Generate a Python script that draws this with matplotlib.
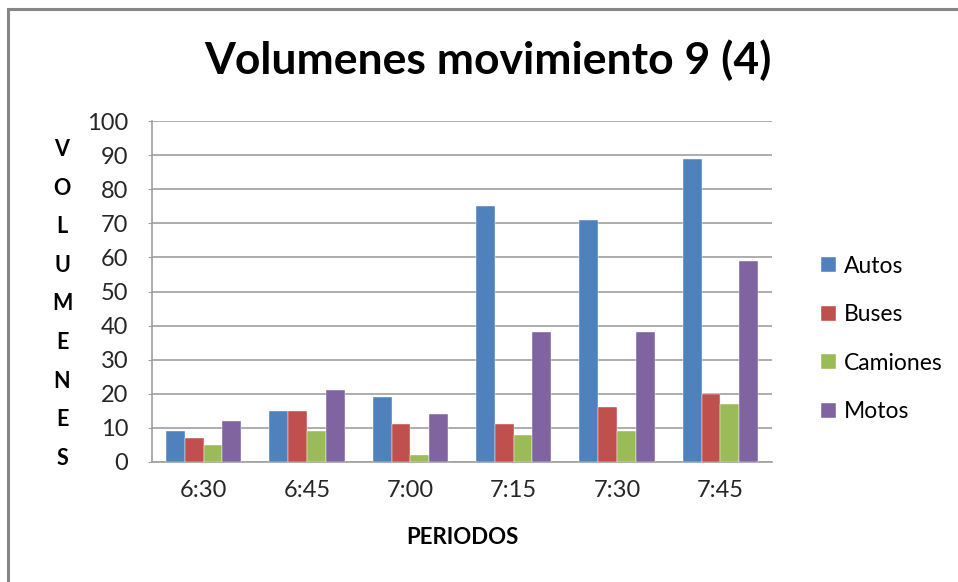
import numpy as np
import matplotlib
matplotlib.use('Agg')
import matplotlib.pyplot as plt
from matplotlib.patches import Rectangle

plt.rcParams['font.family'] = ['Lato', 'DejaVu Sans']

periodos = ["6:30", "6:45", "7:00", "7:15", "7:30", "7:45"]
autos    = [9, 15, 19, 75, 71, 89]
buses    = [7, 15, 11, 11, 16, 20]
camiones = [5, 9, 2, 8, 9, 17]
motos    = [12, 21, 14, 38, 38, 59]

SERIES = [
    ("Autos",    autos,    "#4F81BD"),
    ("Buses",    buses,    "#C0504D"),
    ("Camiones", camiones, "#9BBB59"),
    ("Motos",    motos,    "#8064A2"),
]

W, H = 958, 582
fig = plt.figure(figsize=(W / 100, H / 100), dpi=100)
ax = fig.add_axes([152 / W, 1 - 462 / H, 620 / W, 341 / H])

# borde del gráfico (sólo se ven arriba e izquierda)
fig.add_artist(Rectangle((8 / W, -0.1), 1.2, 1.1 - 9 / H,
                         transform=fig.transFigure, fill=False,
                         edgecolor="#868686", lw=2.2, clip_on=False))

x = np.arange(len(periodos))
bw = 1 / 5.5
for i, (name, vals, color) in enumerate(SERIES):
    ax.bar(x + (i - 1.5) * bw, vals, bw, color=color, label=name,
           edgecolor="white", linewidth=0.3, zorder=3)

ax.set_xlim(-0.5, len(periodos) - 0.5)
ax.set_ylim(0, 100)
ax.set_yticks(range(0, 101, 10))
ax.set_xticks(x)
ax.set_xticklabels(periodos)
ax.yaxis.grid(True, color="#A0A0A0", lw=1.2, zorder=0)
for s in ("top", "right"):
    ax.spines[s].set_visible(False)
for s in ("left", "bottom"):
    ax.spines[s].set_color("#A0A0A0")
    ax.spines[s].set_linewidth(1.2)
ax.tick_params(axis="y", length=3, color="#A0A0A0", labelsize=17, pad=14,
               labelcolor="#262626")
ax.tick_params(axis="x", length=0, labelsize=17, pad=13, labelcolor="#262626")

fig.text(488 / W, 1 - 60 / H, "Volumenes movimiento 9 (4)", ha="center",
         va="center", fontsize=32, fontweight="bold")
fig.text(462 / W, 1 - 537 / H, "PERIODOS", ha="center", va="center",
         fontsize=16, fontweight="bold")
fig.text(62 / W, 1 - 304 / H, "\n".join("VOLUMENES"), ha="center", va="center",
         fontsize=15.5, fontweight="bold", linespacing=2.03)

ax.legend(loc="center left", bbox_to_anchor=(800 / W, 1 - 339 / H),
          bbox_transform=fig.transFigure, frameon=False, fontsize=16.5,
          handlelength=0.65, handleheight=0.65, handletextpad=0.35,
          labelspacing=1.2)

fig.savefig("out.png", dpi=100)
